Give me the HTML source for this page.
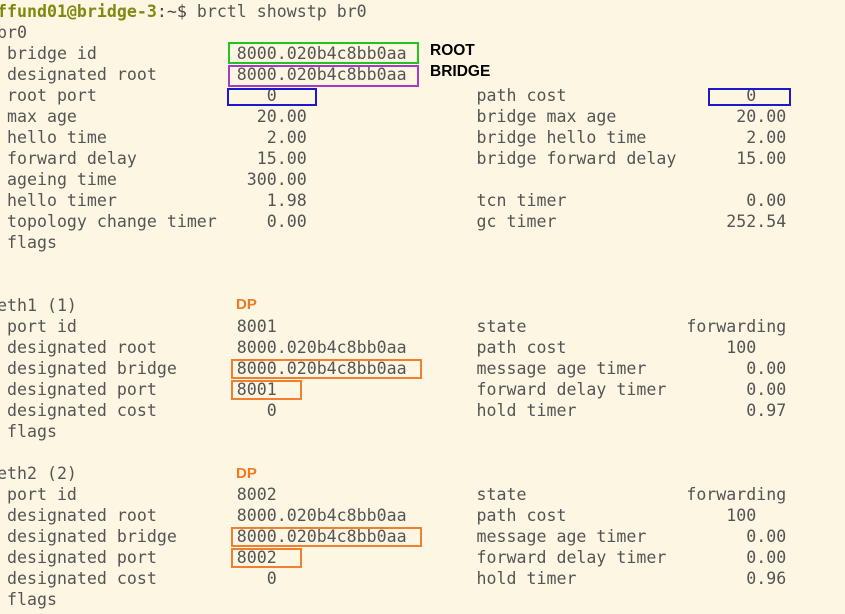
<!DOCTYPE html><html><head><style>
body{margin:0;width:845px;height:614px;background:#fdf6e3;overflow:hidden;position:relative}
pre{position:absolute;left:-3px;top:1px;margin:0;font-family:"DejaVu Sans Mono","Liberation Mono",monospace;font-size:16.6px;line-height:21px;color:#555}
.p{color:#7d8a10;font-weight:bold}
.b{position:absolute;border:2px solid;box-sizing:border-box}
.l{position:absolute;font-family:"Liberation Sans",sans-serif;font-weight:bold}
</style></head><body>
<pre><span class="p">ffund01@bridge-3</span><span style="color:#444">:~$</span> brctl showstp br0
br0
 bridge id              8000.020b4c8bb0aa
 designated root        8000.020b4c8bb0aa
 root port                 0                    path cost                  0
 max age                  20.00                 bridge max age            20.00
 hello time                2.00                 bridge hello time          2.00
 forward delay            15.00                 bridge forward delay      15.00
 ageing time             300.00
 hello timer               1.98                 tcn timer                  0.00
 topology change timer     0.00                 gc timer                 252.54
 flags


eth1 (1)
 port id                8001                    state                forwarding
 designated root        8000.020b4c8bb0aa       path cost                100
 designated bridge      8000.020b4c8bb0aa       message age timer          0.00
 designated port        8001                    forward delay timer        0.00
 designated cost           0                    hold timer                 0.97
 flags

eth2 (2)
 port id                8002                    state                forwarding
 designated root        8000.020b4c8bb0aa       path cost                100
 designated bridge      8000.020b4c8bb0aa       message age timer          0.00
 designated port        8002                    forward delay timer        0.00
 designated cost           0                    hold timer                 0.96
 flags
</pre>
<div class="b" style="left:228px;top:42px;width:191px;height:22px;border-color:#22c322"></div>
<div class="b" style="left:228px;top:65px;width:191px;height:22px;border-color:#a63cc6"></div>
<div class="b" style="left:227px;top:88px;width:90px;height:18px;border-color:#1a1acc"></div>
<div class="b" style="left:708px;top:88px;width:83px;height:18px;border-color:#1a1acc"></div>
<div class="b" style="left:231px;top:359px;width:191px;height:20px;border-color:#f08030"></div>
<div class="b" style="left:231px;top:380px;width:71px;height:20px;border-color:#f08030"></div>
<div class="b" style="left:231px;top:527px;width:191px;height:20px;border-color:#f08030"></div>
<div class="b" style="left:231px;top:548px;width:71px;height:20px;border-color:#f08030"></div>
<div class="l" style="left:430px;top:42px;font-size:15.5px;color:#000">ROOT</div>
<div class="l" style="left:430px;top:63px;font-size:15.5px;color:#000">BRIDGE</div>
<div class="l" style="left:236px;top:296px;font-size:15px;color:#f07a20">DP</div>
<div class="l" style="left:236px;top:465px;font-size:15px;color:#f07a20">DP</div>
</body></html>
